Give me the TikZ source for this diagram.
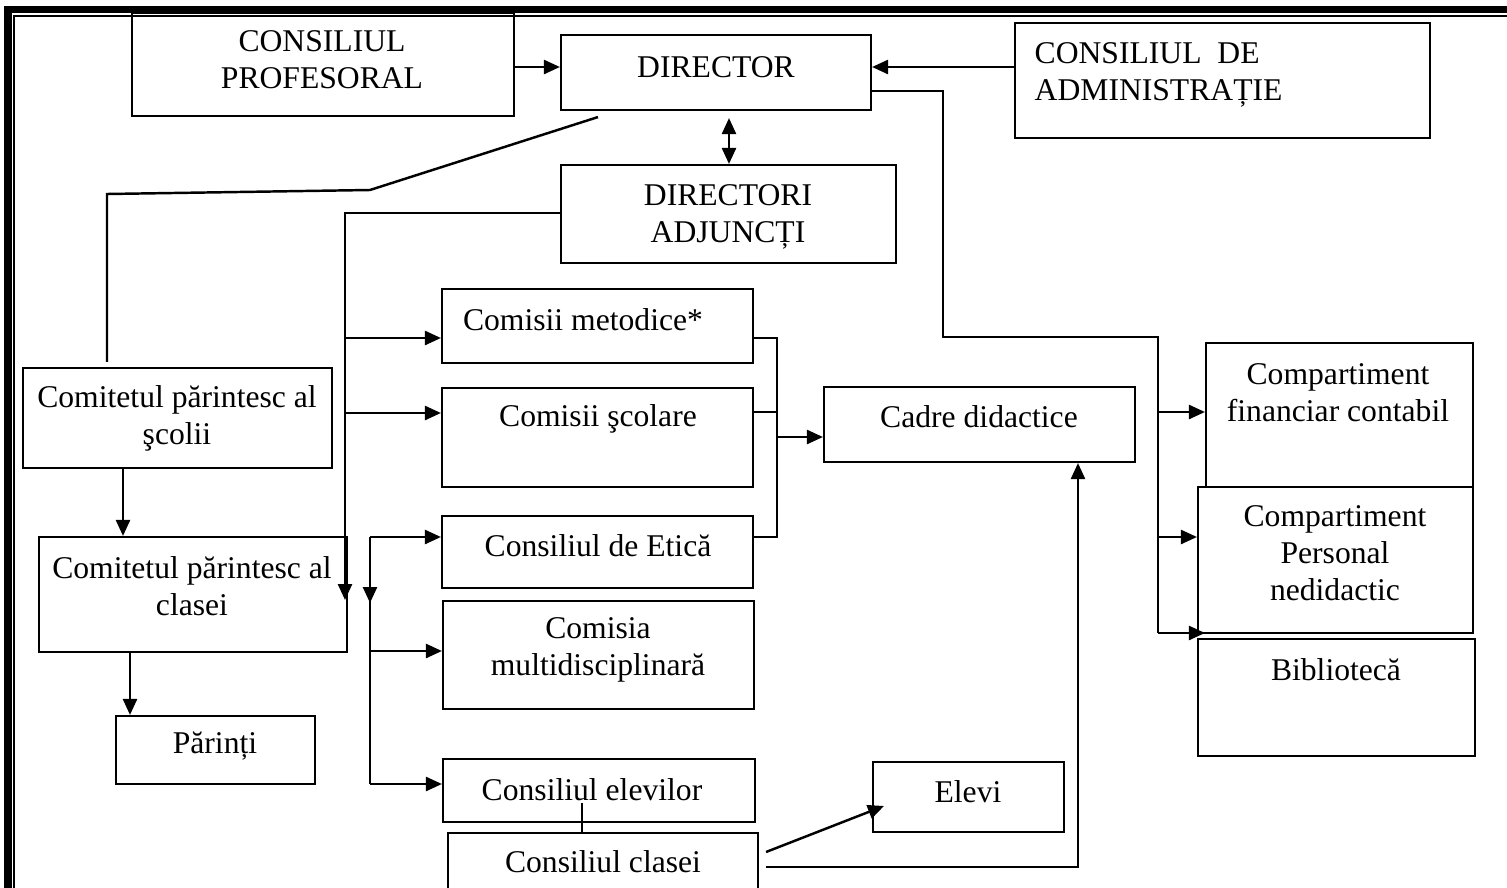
\documentclass[tikz,border=0pt]{standalone}
\usepackage{fontspec}
\setmainfont{Liberation Serif}
\usepackage{tikz}
\usetikzlibrary{arrows.meta}
\def\boxfont{\fontsize{9}{10.5}\selectfont}
\tikzset{
	cell/.style 2 args={draw, line width=0.6pt, inner sep=0, minimum width=#1, minimum height=#2},
	txt/.style={inner sep=0, align=center, font=\boxfont},
	link/.style={line width=0.7pt},
}

\begin{document}
\begin{tikzpicture}[x=0.1mm, y=-0.1mm, >={Triangle[length=1.6mm, width=1.4mm]}]
			%%%%% START %%%%%
			\useasboundingbox (0,0) rectangle (1507,888);
			
			\draw[line width=2pt] (8,888) -- (8,9.5) -- (1507,9.5);
			\draw[line width=0.5pt] (14,888) -- (14,16) -- (1507,16);
			
			% top
			\node[cell={38.2mm}{10.3mm}] (prof) at (323,64.5) {};
			\node[cell={31mm}{7.5mm}] (dir) at (716,72.5) {};
			\node[cell={41.5mm}{11.5mm}] (adm) at (1222.5,80.5) {};
			\node[cell={33.5mm}{9.8mm}] (adj) at (728.5,214) {};
			
			% left
			\node[cell={30.9mm}{10mm}] (scolii) at (177.5,418) {};
			\node[cell={30.8mm}{11.5mm}] (clasei) at (193,594.5) {};
			\node[cell={19.9mm}{6.8mm}] (par) at (215.5,750) {};
			
			% middle
			\node[cell={31.1mm}{7.4mm}] (met) at (597.5,326) {};
			\node[cell={31.1mm}{9.9mm}] (sco) at (597.5,437.5) {};
			\node[cell={31.1mm}{7.2mm}] (eti) at (597.5,552) {};
			\node[cell={31.1mm}{10.8mm}] (mul) at (598.5,655) {};
			\node[cell={31.2mm}{6.3mm}] (ele) at (599,790.5) {};
			\node[cell={31mm}{6mm}] (cla) at (603,863) {};
			\node[cell={31.1mm}{7.5mm}] (cad) at (979.5,424.5) {};
			\node[cell={19.1mm}{7mm}] (elv) at (968.5,797) {};
			
			% right
			\node[cell={26.7mm}{14.4mm}] (fin) at (1339.5,415) {};
			\node[cell={27.5mm}{14.6mm}] (per) at (1335.5,560) {};
			\node[cell={27.7mm}{11.7mm}] (bib) at (1336.5,697.5) {};
			
			% texts
			\node[txt] (profT) at (322,60) {CONSILIUL\\PROFESORAL};
			\node[txt] (dirT) at (716,67) {DIRECTOR};
			\node[txt, align=left, anchor=west] (admT) at (1034,75) {CONSILIUL\ \ DE\\ADMINISTRAȚIE};
			\node[txt] (adjT) at (728,217) {DIRECTORI\\ADJUNCȚI};
			\node[txt] (scoliiT) at (177,418) {Comitetul părintesc al\\şcolii};
			\node[txt] (claseiT) at (192,586) {Comitetul părintesc al\\clasei};
			\node[txt] (parT) at (215,746) {Părinți};
			\node[txt] (metT) at (583,320) {Comisii metodice*};
			\node[txt] (scoT) at (598,419) {Comisii şcolare};
			\node[txt] (etiT) at (598,546) {Consiliul de Etică};
			\node[txt] (mulT) at (598,650) {Comisia\\multidisciplinară};
			\node[txt] (eleT) at (592,790) {Consiliul elevilor};
			\node[txt] (claT) at (603,862) {Consiliul clasei};
			\node[txt] (cadT) at (979,417) {Cadre didactice};
			\node[txt] (elvT) at (968,792) {Elevi};
			\node[txt] (finT) at (1338,393) {Compartiment\\financiar contabil};
			\node[txt] (perT) at (1335,553) {Compartiment\\Personal\\nedidactic};
			\node[txt] (bibT) at (1336,670) {Bibliotecă};
			
			% connectors
			\draw[link, ->] (prof.east |- 0,67) -- (dir.west |- 0,67);
			\draw[link, ->] (adm.west |- 0,67) -- (dir.east |- 0,67);
			\draw[link, <->] ([yshift=-0.7mm]dir.south -| 729,0) -- (adj.north -| 729,0);
			\draw[link] ([yshift=-0.6mm]dir.south -| 598,0) -- (370,190) -- (107,194) -- ([yshift=0.5mm]scolii.north -| 107,0);
			
			\draw[link, ->] (adj.west |- 0,213) -- (345,213) -- (345,600);
			\draw[link, ->] (345,338) -- (met.west |- 0,338);
			\draw[link, ->] (345,413) -- (sco.west |- 0,413);
			
			\draw[link, ->] (370,537) -- (eti.west |- 0,537);
			\draw[link, ->] (370,537) -- (370,603);
			\draw[link] (370,600) -- (370,784);
			\draw[link, ->] (370,651) -- (mul.west |- 0,651);
			\draw[link, ->] (370,784) -- (ele.west |- 0,784);
			
			\draw[link] (met.east |- 0,338) -- (777,338) -- (777,537) -- (eti.east |- 0,537);
			\draw[link] (sco.east |- 0,412) -- (777,412);
			\draw[link, ->] (777,437) -- (cad.west |- 0,437);
			
			\draw[link] (dir.east |- 0,91) -- (943,91) -- (943,337) -- (1158,337) -- (1158,633);
			\draw[link, ->] (1158,412) -- (fin.west |- 0,412);
			\draw[link, ->] (1158,537) -- (per.west |- 0,537);
			\draw[link, ->] (1158,633) -- (fin.west |- 0,633);
			
			\draw[link, ->] (scolii.south -| 123,0) -- (clasei.north -| 123,0);
			\draw[link, ->] (clasei.south -| 130,0) -- (par.north -| 130,0);
			
			\draw[link] (cla.north -| 582,0) -- (582,803);
			\draw[link, ->] ([shift={(7,-11)}]cla.east) -- ([shift={(12,9)}]elv.west);
			\draw[link, ->] ([shift={(7,4)}]cla.east) -- (1078,867) -- (cad.south -| 1078,0);
			
			%%%%% END %%%%%
\end{tikzpicture}
\end{document}
